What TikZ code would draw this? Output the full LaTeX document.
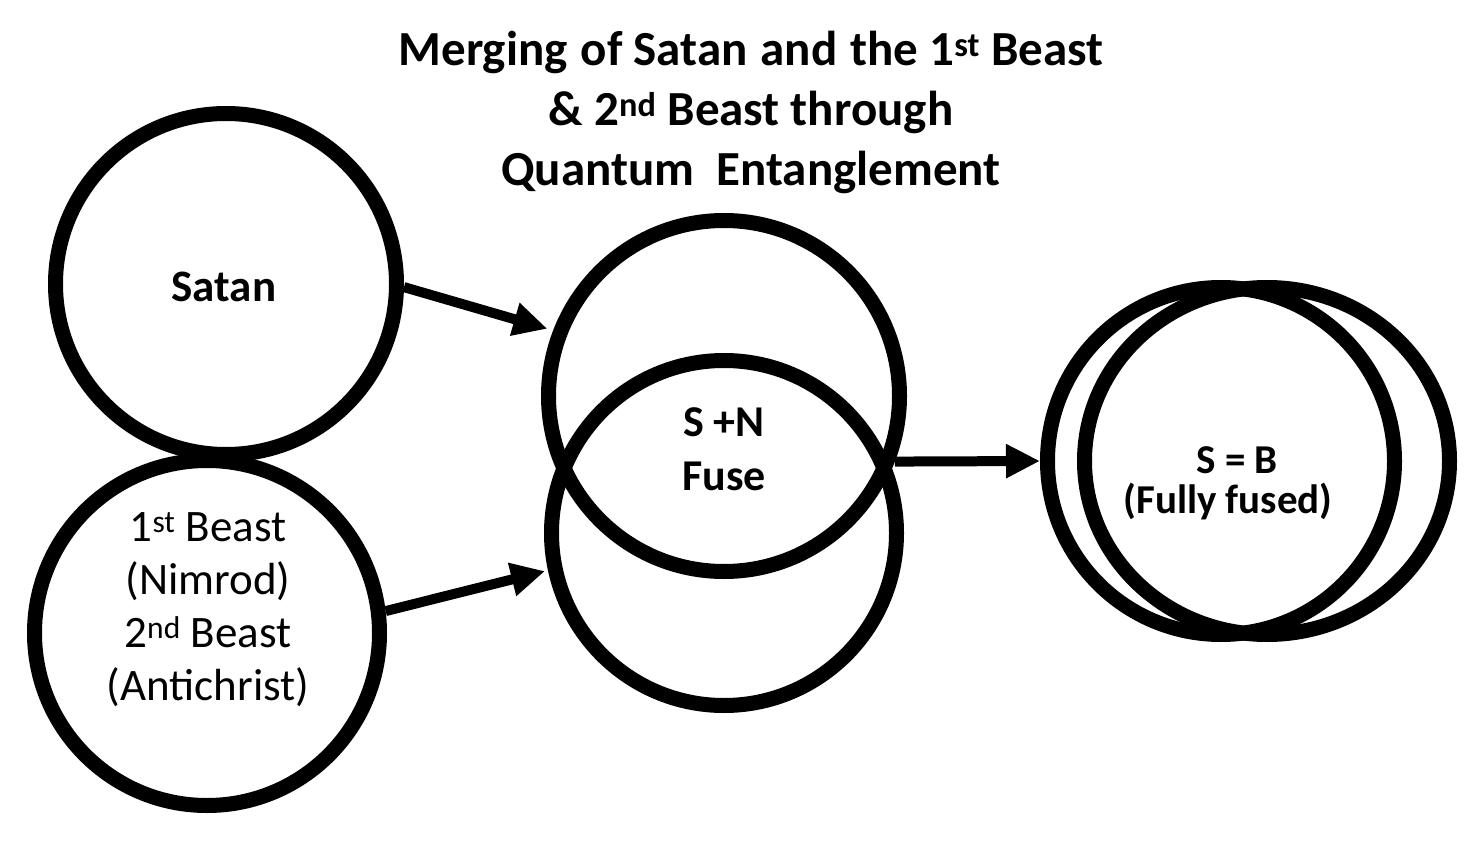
\documentclass[tikz,border=0pt]{standalone}
\usepackage{fontspec}
\setmainfont{Carlito}
\usetikzlibrary{arrows.meta,shapes.geometric}
\tikzset{
  ring/.style={circle,draw=black,line width=15pt,inner sep=0pt},
  ringoval/.style={ellipse,draw=black,line width=15pt,inner sep=0pt},
  conn/.style={line width=10pt,-{Triangle[length=34pt,width=32pt]}},
  lbl/.style={align=center,inner sep=0pt,text=black}
}
\begin{document}
\begin{tikzpicture}[x=1pt,y=-1pt]
\fill[white] (0,0) rectangle (1480,842);
\useasboundingbox (0,0) rectangle (1480,842);
% title
\node[lbl,font=\bfseries\fontsize{49}{60}\selectfont] (title) at (751,112)
  {Merging\kern2pt\ of Satan\kern2pt\ and\kern2pt\ the 1\textsuperscript{st} Beast\\ \& 2\textsuperscript{nd} Beast through\\ Quantum\ \ Entanglement};
% circles
\node[ring,minimum size=341pt] (satan) at (226,284) {};
\node[ring,minimum size=345pt] (beast) at (207,633) {};
\node[ring,minimum size=351pt] (top) at (724,396) {};
\node[ring,minimum size=345pt] (bot) at (724,533) {};
\node[ring,minimum size=347pt] (fa) at (1221,461) {};
\node[ringoval,minimum width=365pt,minimum height=347pt] (fb) at (1267,461) {};
% labels
\node[lbl,font=\bfseries\fontsize{45}{50}\selectfont] (satant) at (224,287) {Satan};
\node[lbl,font=\fontsize{45}{53}\selectfont] (beastt) at (208,610)
  {1\textsuperscript{st} Beast\\(Nimrod)\\2\textsuperscript{nd} Beast\\(Antichrist)};
\node[lbl,font=\bfseries\fontsize{44}{54}\selectfont] (fuset) at (724,449) {S +N\\Fuse};
\node[lbl,font=\bfseries\fontsize{41}{46}\selectfont] (sbt) at (1237,460) {S = B};
\node[lbl,font=\bfseries\fontsize{41}{46}\selectfont] (fullt) at (1228,502) {(Fully fused)};
% connectors
\draw[conn,shorten >=6pt] (satan.-1) -- (top.159);
\draw[conn,shorten >=3pt] (beast.7) -- (bot.-168);
\draw[conn] (top.-21) -- (fa.west);
\end{tikzpicture}
\end{document}
